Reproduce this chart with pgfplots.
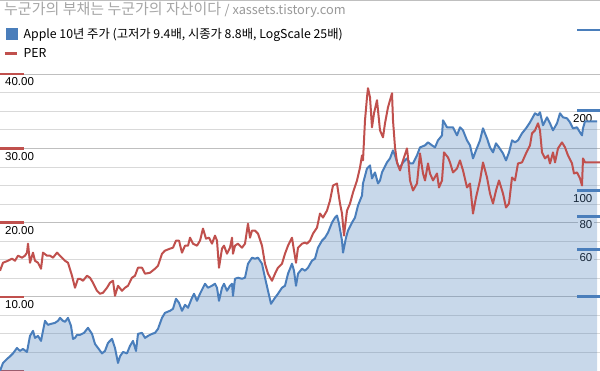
\documentclass[border=0pt]{standalone}
\usepackage{pgfplots}
\pgfplotsset{compat=1.18}
\usepackage{pgfplotstable}
\usepackage{fontspec}
\setmainfont{Noto Sans CJK KR}
\newfontfamily\tickfont{Liberation Sans}
\definecolor{aplblue}{HTML}{4A7EBB}
\definecolor{perred}{HTML}{C0504D}
\definecolor{titlegray}{HTML}{A6A6A6}
\definecolor{urlgray}{HTML}{999999}

% Apple price (right axis, log scale)
\pgfplotstableread{
x p
0 21.02
3 22.53
7 23.33
10 23.84
13 24.47
17 25.65
20 25.00
23 25.43
27 24.78
30 28.47
33 29.73
35 27.98
38 28.47
41 27.26
43 29.73
45 32.42
48 31.32
51 31.59
55 31.86
58 32.42
60 33.27
63 32.42
65 32.14
68 33.27
71 31.05
73 27.74
75 27.98
77 28.72
80 28.72
84 29.22
88 30.52
92 28.97
95 26.56
98 25.65
102 24.47
105 25.00
108 26.79
112 27.74
115 25.65
118 22.53
120 23.84
123 24.78
127 24.47
130 26.10
133 27.26
136 25.00
138 28.97
142 29.22
145 27.98
148 28.47
152 28.97
155 29.22
158 30.25
162 33.27
165 34.74
170 35.36
173 35.97
176 39.23
179 37.89
182 35.36
185 37.24
188 36.29
192 39.57
194 40.97
197 38.55
200 40.97
203 43.15
205 44.67
208 43.15
212 43.91
215 44.67
217 43.15
219 38.55
222 43.15
224 44.67
227 42.04
230 43.91
232 44.67
233 40.26
235 46.65
238 47.06
242 46.65
245 47.06
248 53.12
252 55.96
255 55.48
258 55.96
262 53.12
265 47.06
268 42.04
271 37.56
275 39.57
278 40.97
282 43.15
285 43.91
288 48.73
292 53.12
294 50.00
296 43.91
298 48.73
302 50.87
305 50.00
308 51.31
312 54.53
315 55.48
318 61.01
322 64.84
325 66.55
328 69.50
332 75.79
335 79.13
337 80.52
339 75.12
342 64.84
343 58.43
346 66.55
348 70.71
352 75.79
355 79.13
358 87.81
362 95.76
363 106.25
367 121.00
370 124.19
372 110.96
375 116.88
378 106.25
380 109.05
382 116.88
387 127.46
390 131.95
393 141.42
395 135.43
398 124.19
400 122.05
403 127.46
407 131.95
410 126.36
413 126.36
417 135.43
420 145.14
425 147.68
428 151.57
432 147.68
435 145.14
438 154.22
442 161.05
443 183.40
447 172.61
450 172.61
453 172.61
457 161.05
460 172.61
463 168.18
467 154.22
470 147.68
473 131.95
476 141.42
480 154.22
483 171.12
487 156.92
490 145.14
493 138.99
496 150.26
499 145.14
503 137.79
506 129.68
509 138.99
512 154.22
515 151.57
518 154.22
522 163.87
526 171.12
530 180.25
535 194.88
538 191.52
540 196.57
543 175.63
547 188.24
550 178.70
553 168.18
557 178.70
560 194.88
563 188.24
567 186.61
570 180.25
573 171.12
577 172.61
580 165.29
582 161.05
583 171.12
585 181.80
597 181.80
}\applet

% PER (left axis)
\pgfplotstableread{
x per
0 13.51
3 14.59
8 14.86
12 15.14
15 14.86
18 15.54
22 15.27
25 15.54
27 15.95
28 17.16
30 14.59
33 15.95
35 14.86
38 14.59
41 13.78
43 15.95
47 15.54
50 15.54
53 15.27
57 15.95
60 15.54
65 14.86
68 14.59
72 12.84
75 11.22
78 12.43
80 12.43
83 12.16
87 12.84
90 12.57
93 11.89
97 10.81
100 10.41
103 10.54
107 11.22
110 11.89
113 12.16
115 10.14
118 11.49
122 10.81
125 11.22
128 11.49
132 12.57
135 12.84
138 13.92
142 13.92
145 13.11
150 13.24
155 13.78
158 14.19
162 15.81
165 16.22
170 16.49
173 16.62
176 17.57
179 17.57
182 15.95
185 16.89
188 16.89
190 17.97
193 17.16
197 16.89
200 17.57
203 19.19
206 17.84
209 17.97
212 17.16
215 18.24
217 17.57
219 13.92
222 16.49
224 16.89
227 15.81
230 16.62
232 17.97
233 15.81
235 16.89
238 17.16
242 16.62
245 17.16
248 19.86
250 17.97
252 18.92
255 18.92
258 18.51
262 16.89
265 14.46
268 13.11
272 12.16
275 13.11
278 13.92
282 14.46
285 15.81
288 16.89
292 17.97
294 16.22
296 14.59
298 16.62
302 17.16
305 17.30
307 17.16
310 17.57
313 18.51
317 19.32
320 21.22
323 20.68
327 21.62
330 22.97
333 25.00
337 25.27
338 24.32
340 22.57
342 21.22
344 18.24
347 21.62
350 22.57
353 24.05
357 25.68
360 27.43
362 29.05
363 28.38
365 33.78
367 36.89
368 38.11
370 36.89
372 32.84
374 34.73
377 36.49
380 32.43
383 31.49
385 33.38
388 35.54
392 37.43
393 33.78
395 30.14
397 28.11
400 27.03
403 28.38
407 30.00
408 28.78
410 25.68
413 24.32
417 25.27
420 29.32
423 26.62
425 25.68
428 27.97
430 26.62
433 25.68
437 26.62
439 24.73
442 25.68
444 29.46
448 28.78
450 28.11
453 26.76
457 27.30
460 28.38
463 27.03
467 24.73
470 25.27
473 21.22
476 23.38
480 25.68
483 28.11
487 26.08
490 23.92
493 22.57
496 24.32
499 25.68
503 23.92
506 22.03
509 22.57
512 26.08
515 25.68
518 27.97
522 28.11
526 29.32
530 30.41
532 32.03
535 32.43
538 33.38
540 32.43
542 29.46
545 28.65
548 29.05
550 27.97
553 29.46
555 28.11
558 30.00
562 30.81
565 30.14
568 29.05
572 27.97
574 26.62
577 26.76
580 25.95
582 25.00
583 28.65
585 28.11
600 28.11
}\pertab

\begin{document}
\begin{tikzpicture}
\pgfplotsset{
  base/.style={
    width=600pt, height=371pt, scale only axis,
    xmin=0, xmax=600, xtick=\empty,
    axis line style={draw=none},
    tick align=inside,
    minor tick length=0pt,
    /pgf/number format/assume math mode=true,
  }
}
% grid and PER ticks
\begin{axis}[base, name=ax,
  ymin=0, ymax=50,
  ytick={0,10,20,30,40}, yticklabels={,10.00,20.00,30.00,40.00},
  extra y ticks={50}, extra y tick labels={},
  extra y tick style={grid=major, major tick length=0pt},
  minor y tick num=3,
  ymajorgrids, yminorgrids,
  major grid style={draw=black!25, line width=0.9pt},
  minor grid style={draw=black!15, line width=0.8pt},
  ytick pos=left, major tick length=24pt,
  ytick style={draw=perred, line width=2.5pt},
  yticklabel style={font=\tickfont\fontsize{11.5}{13}\selectfont, anchor=north west, inner sep=0pt, xshift=5pt, yshift=-3.5pt},
]
\end{axis}
% Apple price, log scale on the right
\begin{axis}[base,
  ymode=log, ymin=21.02, ymax=518.7,
  ytick={40,60,80,100,200,400}, yticklabels={,60,80,100,200,},
  ytick pos=right, major tick length=23pt,
  ytick style={draw=aplblue, line width=2.5pt},
  yticklabel style={font=\tickfont\fontsize{11.5}{13}\selectfont, anchor=north east, xshift=-6pt, yshift=-2pt, fill=white, rounded corners=2pt, inner sep=1.5pt},
]
\addplot[draw=none, fill=aplblue, fill opacity=0.3] table[x=x, y=p] {\applet} \closedcycle;
\addplot[aplblue, line width=2pt, line join=round] table[x=x, y=p] {\applet};
\end{axis}
% PER line and legend
\begin{axis}[base,
  ymin=0, ymax=50, ytick=\empty,
  legend style={at={(0,1)}, anchor=north west, xshift=2pt, yshift=-25pt,
    draw=none, fill=none, font=\fontsize{12.3}{14}\selectfont,
    row sep=4.5pt, inner sep=1pt},
  legend cell align=left,
]
\addplot[perred, line width=2pt, line join=round, forget plot] table[x=x, y=per] {\pertab};
\addlegendimage{legend image code/.code={\fill[aplblue] (0pt,-5.5pt) rectangle (11pt,5.5pt); \path[draw=none, fill=none] (0pt,0pt) -- (16pt,0pt);}}
\addlegendentry{Apple 10년 주가 (고저가 9.4배, 시종가 8.8배, LogScale 25배)}
\addlegendimage{legend image code/.code={\draw[perred, line width=3pt] (-1pt,0pt) -- (11pt,0pt); \path[draw=none, fill=none] (0pt,0pt) -- (16pt,0pt);}}
\addlegendentry{PER}
\end{axis}
\node[anchor=north west, fill=white, inner sep=1pt, text=titlegray,
  font=\fontsize{15}{17}\selectfont] at ([xshift=3pt,yshift=-0.5pt]ax.north west)
  {누군가의 부채는 누군가의 자산이다 {\color{urlgray}\fontsize{12.8}{17}\selectfont / xassets.tistory.com}};
\pgfresetboundingbox
\path (ax.south west) rectangle (ax.north east);
\end{tikzpicture}
\end{document}
